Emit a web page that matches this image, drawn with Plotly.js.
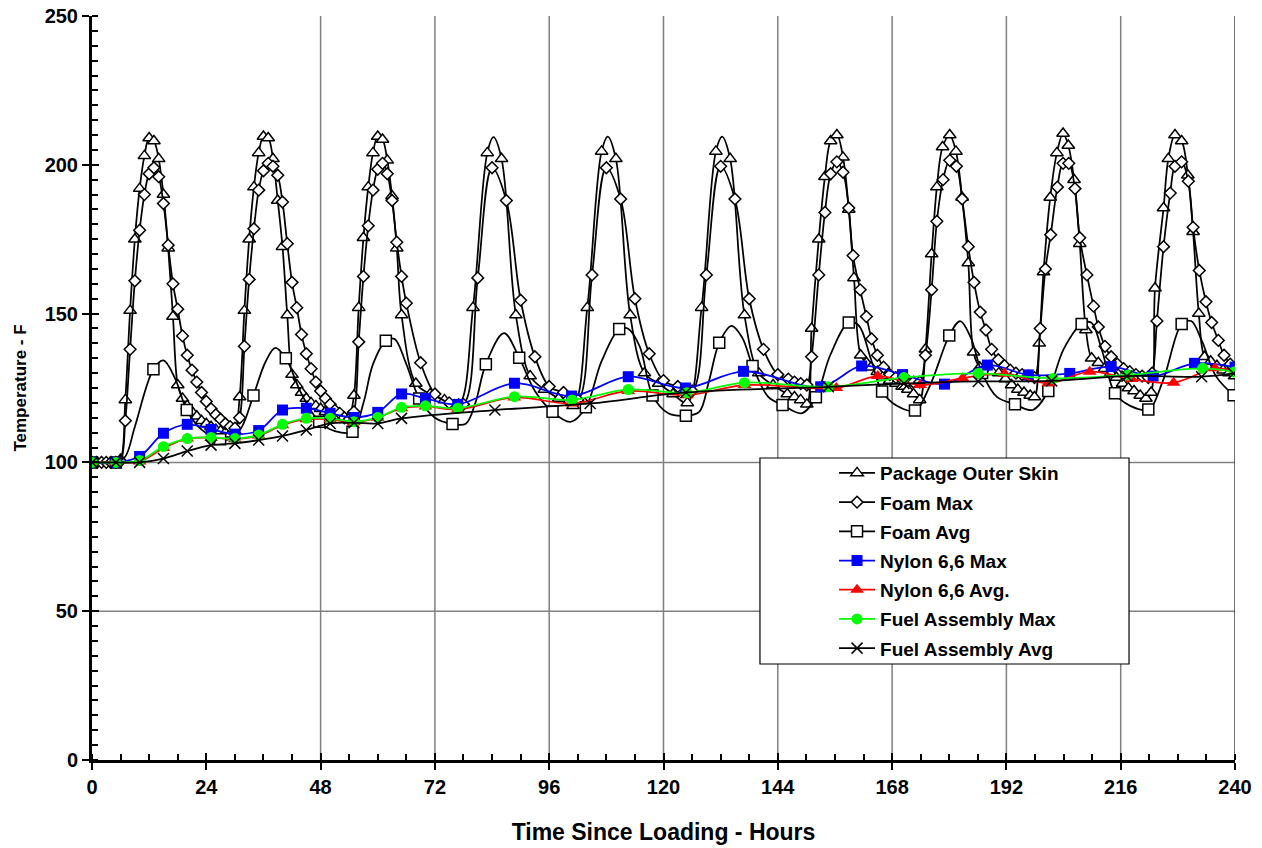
<!DOCTYPE html>
<html><head><meta charset="utf-8">
<script src="https://cdn.plot.ly/plotly-3.0.1.min.js"></script>
<style>html,body{margin:0;padding:0;background:#fff}#chart{width:1262px;height:848px}</style>
</head><body><div id="chart"></div>
<script>
// ---------------- DATA ----------------
const xTickVals = [0,24,48,72,96,120,144,168,192,216,240];
const yTickVals = [0,50,100,150,200,250];
const gridHours = [48,72,96,120,144,168,192,216];
const gridTemps = [50,100];

const seriesNames = ['Package Outer Skin','Foam Max','Foam Avg','Nylon 6,6 Max','Nylon 6,6 Avg.','Fuel Assembly Max','Fuel Assembly Avg'];

// Package Outer Skin: marked points
const pkgHours = [0,1,2,3,4,5,6,7,8,9,10,11,12,13,14,15,16,17,18,19,20,21,22,23,24,25,26,27,28,29,30,
 31,32,33,34,35,36,37,38,39,40,41,42,43,44,45,46,47,48,49,50,51,52,53,54,
 55,56,57,58,59,60,61,62,63,64,65,
 68,71,74,77,80,83,86,89,92,95,98,101,104,107,110,113,116,119,122,125,128,131,134,137,140,143,146,
 147.5,148.8,150.1,151.1,152.6,153.9,155.1,156.4,157.7,158.9,160,161.4,162.6,163.6,164.9,166.2,167.5,168.8,170.1,171.3,172.5,173.8,
 175,176.3,177.4,178.6,180.1,181.4,182.7,184,185.1,186.4,187.7,189,190.4,191.8,193.1,194.4,195.7,197,197.9,
 198.9,199.8,201.2,202.6,203.9,205,206.2,207.4,208.7,209.9,211.3,212.6,213.9,215.1,216.4,217.6,218.8,220.1,221.3,222.4,
 223.2,225,226,227.4,228.8,230.1,231.2,232.4,233.6,234.9,236.2,237.5,238.7,240];
const pkgTemp = [100,100,100,100,100,100,101,121,151,175,192,203,209,208,202,190,172,149,126,121.5,119,117,115.5,114,113,112,111,110.5,110,109.5,110.5,
 122,151,175,192.5,204,209.5,209,202,188,172.5,149.5,129.5,126,123.5,121.5,120,119,118,117,116.5,116,115.5,115,115.5,
 122.5,152,175.5,192.5,204,209.5,208.5,201.5,189.5,172,149.5,
 126.5,123,121,119.5,152,204,202,149.5,129,124.5,121.5,119,152,204.5,202,149.5,130,126.5,123,120,152,204.5,202,149.5,130,126,123,
 122,121,119.5,145,175,196,208,210,202.5,185,162,136,133.5,132,130.5,129,127.5,126.5,125.5,124.5,123,121,
 138,170,192.5,206,210,204.5,189,167,137,132,131,130.5,130,128,126,124.5,123.5,122.5,122,
 140,164,189,204,210.5,206.5,195,173.5,144.5,135,133.5,131.5,130,128.5,126.5,125,124,122.5,121.5,123.5,
 158.5,185.5,202,210,208,196.5,177.5,150,135.5,134,132.5,131,130,129];
// Package Outer Skin: unmarked curve crests read between the 3-hourly points
const pkgCrestHours = [84.3,108.3,132.3];
const pkgCrestTemp = [209.3,209.5,209.5];

const foamMaxHours = [0,1,2,3,4,5,6,7,8,9,10,11,12,13,14,15,16,17,18,19,20,21,22,23,24,25,26,27,28,29,30,
 31,32,33,34,35,36,37,38,39,40,41,42,43,44,45,46,47,48,49,50,51,52,53,54,55,
 56,57,58,59,60,61,62,63,64,65,66,
 69,72,75,78,81,84,87,90,93,96,99,102,105,108,111,114,117,120,123,126,129,132,135,138,141,144,
 146.2,147.5,148.8,150.1,151.1,152.6,153.9,155.1,156.4,157.7,158.9,159.8,161.3,162.6,163.7,164.9,166.2,167.5,168.8,170.1,
 171.3,172.5,173.8,175,176.3,177.4,178.7,180.1,181.5,182.7,184,185.2,186.5,187.7,188.9,190.3,191.6,192.8,194,195.3,
 196.6,197.9,199.1,200.2,201.3,202.7,203.9,205.1,206.4,207.4,208.9,210.3,211.3,212.7,214,215.3,216.6,217.9,219.2,220.5,
 221.8,222.6,223.6,225,226.4,227.4,228.8,230.2,231.2,232.5,233.9,235.1,236.5,237.7,239,240];
const foamMaxTemp = [100,100,100,100,100,100,100.5,114,138,161,178,190,197,199,196,187,173,160,151.5,142.5,136,131,127,123.5,120.5,118,116,114.5,113,112,111.5,
 115,139,161.5,178.5,191.5,198,200.5,199.5,196.5,187.5,173.5,160.5,152,143,136.5,131.5,127,124,121.5,119.5,117.5,116.5,115,114.5,117,
 140.5,162.5,179.5,191.5,198.5,200.5,197,188,174,162.5,153.5,
 133.5,123,120,119.5,162,199,188,154.5,135.5,125.5,123.5,121,163,199,188.5,155,136.5,127.5,125.5,124,163,199.5,188.5,155,138,129.5,
 128,127,126.5,126,135.5,163,184,197,201,197.5,185.5,169.5,158,149,141.5,136,132,129.5,128.5,128,
 127.5,127,127,136,158,181,195,201.5,199.5,188.5,172.5,160.5,150.5,144.5,138,134.5,132.5,131,130,129.5,
 129,128.5,145,165,176.5,192.5,200.5,200.5,192,175.5,163,152.5,145.5,139,135.5,133,131.5,130.5,129.5,129,
 128.5,130,147.5,172.5,190.5,199.5,201,194.5,179,164.5,154,147,141,136,133,131];

const foamAvgHours = [0,5,7,9,12.9,15,17.5,19.9,23,26.9,29.5,31.5,33.9,36.5,38.5,40.7,44,47.7,51,54.7,57,59,61.7,63.5,66,68.7,72,75.7,78.5,80.5,
 82.7,86.5,89.7,93,96.7,100.5,103.7,107,110.7,112.5,115,117.7,121,124.7,127.5,129.5,131.7,134.3,136.5,138.7,142,145,149,152,155,
 158.9,161,163.5,165.9,169,172.8,176,180,182.3,184.5,186.9,190,193.8,197.5,200.8,204,207.8,209.8,212,214.8,218,221.8,225,228.8,230.8,233,236,239.7];
const foamAvgTemp = [100,100,102,112,131.3,134.3,128,117.6,111,107.8,108,112,122.5,134,138.5,135,123,113.7,110.5,110.3,120,133,140.9,141.5,133,121.5,115,112.9,113,120,
 133,143.4,135.2,124,117,113.6,118.5,134,144.8,145,139,122.5,116.5,115.7,117,127,140.2,145.9,142,132.4,122,119.3,116.5,121.9,136,
 147,146,135,123.8,119,117.4,126,142.6,147.5,142,130,122,119.5,117.6,124,138,146.5,147,138,123.2,119,117.8,128,146.5,147.5,141,129,122.6];
const foamAvgMarkHours = [0,5,12.9,19.9,26.9,33.9,40.7,47.7,54.7,61.7,68.7,75.7,82.7,89.7,96.7,103.7,110.7,117.7,124.7,131.7,138.7,145,152,158.9,165.9,172.8,180,186.9,193.8,200.8,207.8,214.8,221.8,228.8,239.7];

const nylonMaxHours = [0,5,10,15,20,25,30,35,40,45,50,55,60,65,70,76.8,88.7,100.7,112.6,124.6,136.8,153,161.6,170.2,179,188,196.6,205.3,214,222.8,231.5,240];
const nylonMaxTemp = [100,100,102,109.8,112.8,111.1,109.5,110.7,117.6,118.2,116.5,115.1,116.8,123,121.5,119.5,126.6,122.3,128.8,125,130.6,125.4,132.4,129.5,126.3,132.7,129.4,129.9,132.2,129,133.3,132];

const nylonAvgHours = [0,5,10,15,20,25,30,35,40,45,50,55,60,65,70,76.8,88.7,100.8,112.6,124.9,137,156.3,165,173.9,182.8,191.6,200.8,209.5,218.3,227.1,235.8,240];
const nylonAvgTemp = [100,100,100.3,104.8,108,108.3,107.8,109,112.5,114.5,114.5,113.5,115,118.2,118.8,117.8,121.8,119.8,124,122.6,126,125,129,126,128.3,129.8,126.6,130.5,128,126.8,131.6,130.5];

const fuelMaxHours = [0,5,10,15,20,25,30,35,40,45,50,55,60,65,70,76.8,88.7,100.8,112.6,124.9,137,154.6,170.5,186.1,201.8,217.5,233.2,239.8];
const fuelMaxTemp = [100,100,100.6,105.3,108,108.4,108,109.2,112.8,114.8,114.8,113.7,115.1,118.5,119,118.2,122.1,121,124.5,123.4,126.8,125.4,128.5,129.9,128.2,129.4,131.6,130.4];

const fuelAvgHours = [0,5,10,15,20,25,30,35,40,45,50,55,60,65,84.6,104.6,124.7,154.6,170.5,186.1,201.5,217.3,233,239.7];
const fuelAvgTemp = [100,100,100,101.3,103.8,105.8,106.4,107.5,108.9,110.9,113.1,113.3,113.1,114.8,117.6,119.8,123.5,125.4,126.5,127.2,127.4,129,128.8,129.9];

// ---------------- BUILD ----------------
const FONT = 'Liberation Sans, Arial, Helvetica, sans-serif';
const foamAvgMarkTemp = foamAvgMarkHours.map(h => foamAvgTemp[foamAvgHours.indexOf(h)]);

// Package curve = marked points + crest points, in time order
const pkgCurve = pkgHours.map((h, i) => [h, pkgTemp[i]])
  .concat(pkgCrestHours.map((h, i) => [h, pkgCrestTemp[i]]))
  .sort((a, b) => a[0] - b[0]);
const pkgCurveHours = pkgCurve.map(p => p[0]);
const pkgCurveTemp = pkgCurve.map(p => p[1]);

const openMk = (symbol, size) => ({symbol, size, color:'#ffffff', line:{color:'#000000', width:1.5}});
const series = [
  {x:pkgCurveHours, y:pkgCurveTemp, mx:pkgHours, my:pkgTemp, color:'#000000', smooth:1, marker:openMk('triangle-up',11)},
  {x:foamMaxHours, y:foamMaxTemp, mx:foamMaxHours, my:foamMaxTemp, color:'#000000', smooth:1, marker:openMk('diamond',9)},
  {x:foamAvgHours, y:foamAvgTemp, mx:foamAvgMarkHours, my:foamAvgMarkTemp, color:'#000000', smooth:1, marker:openMk('square',11)},
  {x:nylonMaxHours, y:nylonMaxTemp, mx:nylonMaxHours, my:nylonMaxTemp, color:'#0000ff', smooth:1, marker:{symbol:'square', size:11, color:'#0000ff', line:{width:0}}},
  {x:nylonAvgHours, y:nylonAvgTemp, mx:nylonAvgHours, my:nylonAvgTemp, color:'#ff0000', smooth:1, marker:{symbol:'triangle-up', size:12, color:'#ff0000', line:{width:0}}},
  {x:fuelMaxHours, y:fuelMaxTemp, mx:fuelMaxHours, my:fuelMaxTemp, color:'#00ff00', smooth:1, marker:{symbol:'circle', size:11, color:'#00ff00', line:{width:0}}},
  {x:fuelAvgHours, y:fuelAvgTemp, mx:fuelAvgHours, my:fuelAvgTemp, color:'#000000', smooth:1, marker:{symbol:'x-thin-open', size:11, color:'#000000', line:{color:'#000000', width:1.5}}}
];

const traces = [];
series.forEach((s, i) => {
  traces.push({x:s.x, y:s.y, type:'scatter', mode:'lines', line:{color:s.color, width:1.75, shape:'spline', smoothing:s.smooth},
    showlegend:false, legendgroup:'g'+i, hoverinfo:'skip'});
  traces.push({x:s.mx, y:s.my, type:'scatter', mode:'markers', marker:s.marker, name:seriesNames[i],
    showlegend:false, legendgroup:'g'+i});
});
series.forEach((s, i) => {
  traces.push({x:[null], y:[null], type:'scatter', mode:'lines+markers', name:seriesNames[i],
    line:{color:s.color, width:1.75}, marker:s.marker, legendgroup:'g'+i, legendrank:i+1, showlegend:true, hoverinfo:'skip'});
});
// helper trace for the overlay axes that carry the inner half of the major ticks
traces.push({x:[null], y:[null], xaxis:'x2', yaxis:'y2', type:'scatter', mode:'markers', showlegend:false, hoverinfo:'skip'});

const shapes = [];
gridHours.forEach(h => shapes.push({type:'line', xref:'x', yref:'y', x0:h, x1:h, y0:0, y1:250, layer:'below', line:{color:'#808080', width:1.5}}));
gridTemps.forEach(t => shapes.push({type:'line', xref:'x', yref:'y', x0:0, x1:240, y0:t, y1:t, layer:'below', line:{color:'#808080', width:1.5}}));
shapes.push({type:'line', xref:'x', yref:'y', x0:240, x1:240, y0:0, y1:250, layer:'below', line:{color:'#404040', width:1.5}});
// legend frame
shapes.push({type:'rect', xref:'paper', yref:'paper', x0:0.5844, x1:0.9073, y0:0.129, y1:0.4059, layer:'above',
  fillcolor:'#ffffff', line:{color:'#000000', width:1.2}});

const tickFont = {family:FONT, size:20, weight:'bold', color:'#000'};
const layout = {
  width:1262, height:848,
  margin:{l:92, r:27, t:16, b:88},
  paper_bgcolor:'#ffffff', plot_bgcolor:'#ffffff',
  font:{family:FONT, color:'#000'},
  showlegend:true,
  legend:{x:0.6492, y:0.4112, xanchor:'left', yanchor:'top', bgcolor:'rgba(0,0,0,0)', borderwidth:0,
    font:{family:FONT, size:19, weight:'bold', color:'#000'}, itemwidth:36, tracegroupgap:1.5, traceorder:'grouped'},
  xaxis:{range:[0,240], tickmode:'array', tickvals:xTickVals, ticktext:xTickVals.map(String), ticks:'outside', ticklen:7, tickwidth:2, tickcolor:'#000',
    showline:true, linewidth:3, linecolor:'#000', showgrid:false, zeroline:false, tickfont:tickFont,
    minor:{dtick:6, tick0:0, ticks:'inside', ticklen:6, tickwidth:1.5, tickcolor:'#000', showgrid:false},
    title:{text:'Time Since Loading - Hours', font:{family:FONT, size:23, weight:'bold', color:'#000'}, standoff:27}},
  yaxis:{range:[0,250], tickmode:'array', tickvals:yTickVals, ticktext:yTickVals.map(String), ticks:'outside', ticklen:7, tickwidth:2, tickcolor:'#000',
    showline:true, linewidth:3, linecolor:'#000', showgrid:false, zeroline:false, tickfont:tickFont,
    minor:{dtick:5, tick0:0, ticks:'inside', ticklen:6, tickwidth:1.5, tickcolor:'#000', showgrid:false},
    title:{text:'Temperature - F', font:{family:FONT, size:17, weight:'bold', color:'#000'}, standoff:14}},
  xaxis2:{overlaying:'x', anchor:'y2', side:'bottom', range:[0,240], tickmode:'array', tickvals:xTickVals, ticks:'inside', ticklen:7, tickwidth:2, tickcolor:'#000',
    showticklabels:false, showgrid:false, zeroline:false, showline:false},
  yaxis2:{overlaying:'y', anchor:'x2', side:'left', range:[0,250], tickmode:'array', tickvals:yTickVals, ticks:'inside', ticklen:7, tickwidth:2, tickcolor:'#000',
    showticklabels:false, showgrid:false, zeroline:false, showline:false},
  shapes:shapes
};

Plotly.newPlot('chart', traces, layout, {displayModeBar:false, responsive:false});
</script>
</body></html>
